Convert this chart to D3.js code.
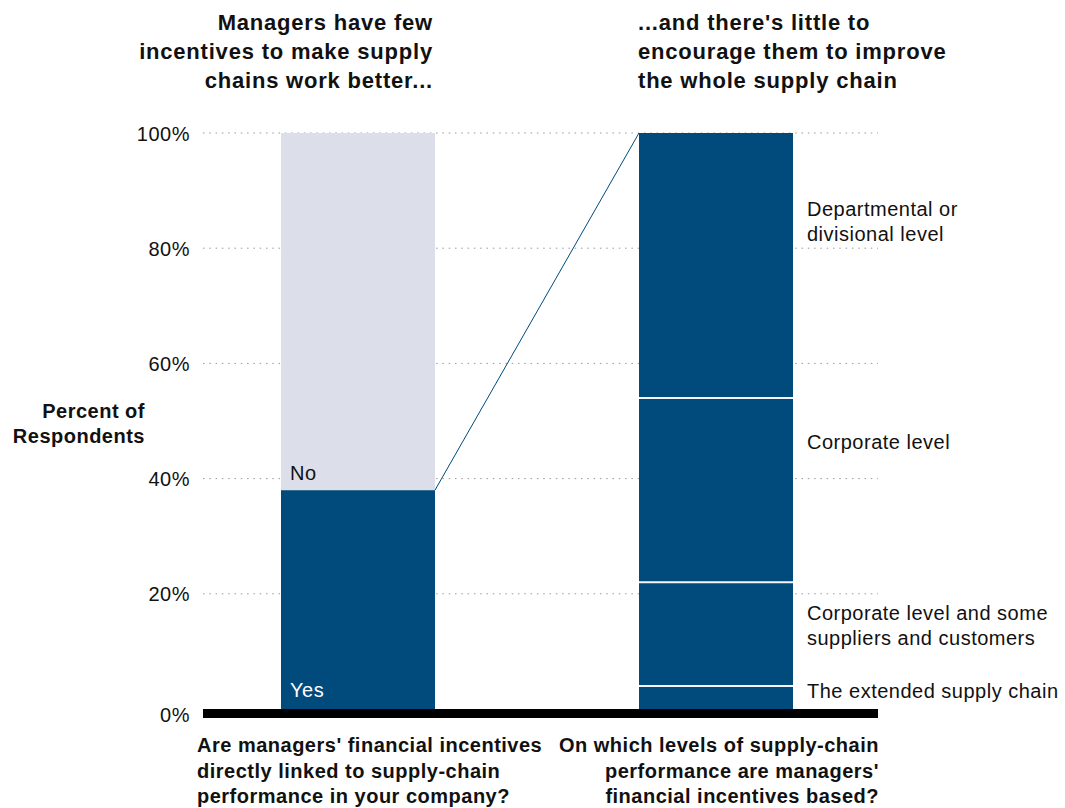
<!DOCTYPE html>
<html><head><meta charset="utf-8">
<script src="https://cdn.jsdelivr.net/npm/d3@7"></script>
<style>body{margin:0;background:#fff}svg{display:block}text{font-family:"Liberation Sans",Arial,sans-serif}</style>
</head><body><svg id="c" width="1065" height="808"></svg>
<script>
const yTicks = [0, 20, 40, 60, 80, 100];
const tickLabels = ["0%", "20%", "40%", "60%", "80%", "100%"];
const leftCategories = ["Yes", "No"];
const leftValues = [38, 62];
const rightCategories = ["The extended supply chain", "Corporate level and some suppliers and customers", "Corporate level", "Departmental or divisional level"];
const rightValues = [4, 18, 32, 46];
const rightLabelLines = [["The extended supply chain"], ["Corporate level and some", "suppliers and customers"], ["Corporate level"], ["Departmental or", "divisional level"]];
const bars = ["left", "right"];

const svg = d3.select("#c");
const y = d3.scaleLinear().domain([0, 100]).range([709, 133]);
const barX = {left: 281, right: 639};
const barW = 154;
const blue = "#004b7c", light = "#dcdfea";
const FS = 20, LS = "0.5px";

// gridlines
const grid = svg.append("g");
yTicks.filter(d => d > 0).forEach(t => {
  grid.append("line").attr("x1", 203).attr("x2", 878).attr("y1", y(t)).attr("y2", y(t))
    .attr("stroke", "#999").attr("stroke-width", 1).attr("stroke-dasharray", "1.5,4.8");
});

// axis labels
const yAxis = d3.axisLeft(y).tickValues(yTicks).tickFormat((d, i) => tickLabels[i]).tickSize(0).tickPadding(0);
const ag = svg.append("g").attr("transform", "translate(190,0)").call(yAxis);
ag.attr("font-family", null).attr("font-size", null);
ag.select(".domain").remove();
ag.selectAll("text").attr("font-size", FS).attr("letter-spacing", LS).attr("fill", "#111").attr("dy", "0.35em")
  .attr("font-family", "Liberation Sans, Arial, sans-serif");
ag.selectAll(".tick").filter(d => d === 0).select("text").attr("transform", "translate(0,5)");

// left stacked bar
let cum = 0;
const leftStack = leftValues.map((v, i) => { const s = {c: leftCategories[i], y0: cum, y1: cum + v}; cum += v; return s; });
svg.append("g").selectAll("rect").data(leftStack).join("rect")
  .attr("x", barX.left).attr("width", barW)
  .attr("y", d => y(d.y1)).attr("height", d => y(d.y0) - y(d.y1))
  .attr("fill", (d, i) => i === 0 ? blue : light);

// right stacked bar
cum = 0;
const rightStack = rightValues.map((v, i) => { const s = {c: rightCategories[i], y0: cum, y1: cum + v, lines: rightLabelLines[i]}; cum += v; return s; });
svg.append("g").selectAll("rect").data(rightStack).join("rect")
  .attr("x", barX.right).attr("width", barW)
  .attr("y", d => y(d.y1)).attr("height", d => y(d.y0) - y(d.y1))
  .attr("fill", blue);
svg.append("g").selectAll("line").data(rightStack.slice(1)).join("line")
  .attr("x1", barX.right).attr("x2", barX.right + barW)
  .attr("y1", d => y(d.y0)).attr("y2", d => y(d.y0))
  .attr("stroke", "#f2f6fa").attr("stroke-width", 2);

// connecting line
svg.append("line").attr("x1", barX.left + barW).attr("y1", y(leftValues[0]))
  .attr("x2", barX.right).attr("y2", y(100)).attr("stroke", blue).attr("stroke-width", 1);

// baseline
svg.append("rect").attr("x", 203).attr("width", 675).attr("y", y(0)).attr("height", 9).attr("fill", "#000");

// bar labels
svg.append("text").attr("x", 290).attr("y", y(leftValues[0]) - 10).attr("font-size", FS).attr("letter-spacing", LS).attr("fill", "#111").text(leftCategories[1]);
svg.append("text").attr("x", 290).attr("y", 697).attr("font-size", FS).attr("letter-spacing", LS).attr("fill", "#fff").text(leftCategories[0]);

// right labels
const rlY = [[698], [620, 645], [449], [216, 241]];
rightStack.forEach((d, i) => {
  d.lines.forEach((ln, j) => {
    svg.append("text").attr("x", 807).attr("y", rlY[i][j]).attr("font-size", FS).attr("letter-spacing", LS).attr("fill", "#111").text(ln);
  });
});

function multi(lines, xx, y0, lh, anchor, size, weight, ls) {
  lines.forEach((l, i) => svg.append("text").attr("x", xx).attr("y", y0 + i * lh)
    .attr("text-anchor", anchor).attr("font-size", size).attr("font-weight", weight)
    .attr("letter-spacing", ls).attr("fill", "#111").text(l));
}
multi(["Managers have few", "incentives to make supply", "chains work better..."], 433, 30, 29, "end", 22, "bold", "0.8px");
multi(["...and there's little to", "encourage them to improve", "the whole supply chain"], 638, 30, 29, "start", 22, "bold", "0.8px");
multi(["Percent of", "Respondents"], 145, 418, 25, "end", FS, "bold", LS);
multi(["Are managers' financial incentives", "directly linked to supply-chain", "performance in your company?"], 197, 752, 25.5, "start", FS, "bold", LS);
multi(["On which levels of supply-chain", "performance are managers'", "financial incentives based?"], 879, 752, 25.5, "end", FS, "bold", LS);
</script></body></html>
